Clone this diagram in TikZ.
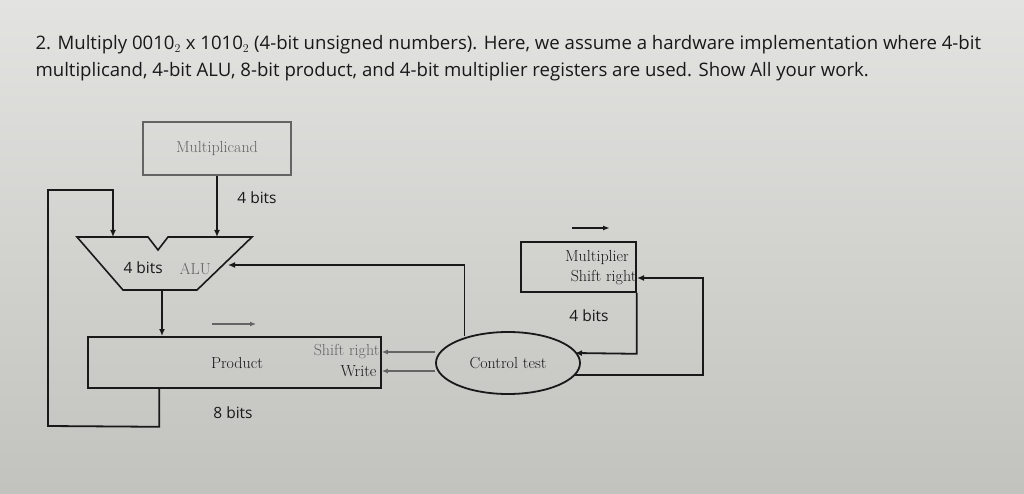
\documentclass[tikz,border=0pt]{standalone}
\usepackage{fontspec}
\newfontfamily\ttl{Open Sans}
\usetikzlibrary{arrows.meta,shapes.geometric}
\definecolor{bg}{RGB}{204,204,200}
\definecolor{ink}{RGB}{25,25,25}
\definecolor{faint}{RGB}{100,100,100}
\tikzset{
  wire/.style={draw=ink,line width=1.8pt},
  arr/.style={wire,-{Latex[length=7pt,width=6pt]}},
  farr/.style={draw=faint,line width=1.3pt,-{Latex[length=6pt,width=5pt]}},
  box/.style={draw=ink,line width=1.6pt,inner sep=0},
  lab/.style={font=\fontsize{16}{18}\selectfont,text=ink},
  sans/.style={font=\ttl\fontsize{15.5}{18}\selectfont,text=ink},
}
\begin{document}
\begin{tikzpicture}[x=1pt,y=-1pt]
\shade[top color=bg!55!white,bottom color=bg!95!black] (0,0) rectangle (1024,494);
\useasboundingbox (0,0) rectangle (1024,494);
\node[anchor=west,text=ink,font=\ttl\fontsize{18.6}{20}\selectfont] (t1) at (32,45) {2. Multiply 0010$_2$ x 1010$_2$ (4-bit unsigned numbers). Here, we assume a hardware implementation where 4-bit};
\node[anchor=west,text=ink,font=\ttl\fontsize{18.6}{20}\selectfont] (t2) at (32,72) {multiplicand, 4-bit ALU, 8-bit product, and 4-bit multiplier registers are used. Show All your work.};
% multiplicand
\node[box,draw=faint,minimum width=148,minimum height=53,lab,text=faint] (mc) at (217,148.5) {Multiplicand};
% ALU
\draw[box,fill=none] (77,237) -- (148,237) -- (158,250) -- (168,237) -- (252,237) -- (197,290) -- (123,290) -- cycle;
\coordinate (alul) at (113,237);
\coordinate (alur) at (217,237);
\coordinate (aluin) at (228,265);
\node[sans,anchor=west] (a4) at (120,268) {4 bits};
\node[lab,text=faint,anchor=west] (alu) at (176,269) {ALU};
% product
\node[box,minimum width=293,minimum height=51] (pr) at (234.5,362.5) {};
\node[lab] (prt) at (237,363) {Product};
\node[lab,text=faint,anchor=east] (sr) at (383,352) {Shift right};
\node[lab,anchor=east] (wr) at (380,371) {Write};
\draw[farr] (212,324) -- (256,324);
\node[sans] (b8) at (233,413) {8 bits};
% control
\node[draw=ink,line width=1.8pt,ellipse,minimum width=144,minimum height=62,lab,inner sep=0] (ct) at (508,363) {Control test};
% multiplier
\node[box,minimum width=115,minimum height=50] (mp) at (578.5,267) {};
\node[lab,anchor=center] (mpt) at (597,258) {Multiplier};
\node[lab,anchor=east] (mps) at (640,278) {Shift right};
\draw[wire,-{Latex[length=7pt,width=5pt]}] (572,228) -- (610,228);
\node[sans] (b4b) at (589,316) {4 bits};
% wires
\draw[arr] (mc.south) -- (alur);
\node[sans] (b4) at (257,198) {4 bits};
\draw[arr] (pr.south west)++(72,0) -- ++(0,38) -- (48,426) -- (48,190) -- (113,190) -- (alul);
\draw[arr] (162,290) -- (162,336);
\draw[arr] (ct.north west)++(8,-4) |- (aluin);
\draw[farr] (ct.west |- sr) -- (pr.east |- sr);
\draw[farr] (ct.west |- wr) -- (pr.east |- wr);
\draw[arr] (mp.south east) -- ++(0,61) -- (575,353);
\draw[arr] (574,375) -- (703,375) -- (703,278) -- (637,278);
\end{tikzpicture}
\end{document}
